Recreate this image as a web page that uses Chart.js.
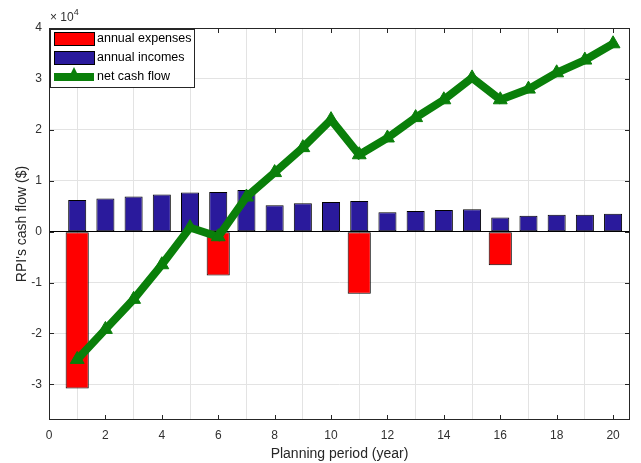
<!DOCTYPE html>
<html>
<head>
<meta charset="utf-8">
<script src="https://cdn.jsdelivr.net/npm/chart.js@4.4.0/dist/chart.umd.min.js"></script>
<style>
    body { margin: 0; background: #fff; }
</style>
</head>
<body>
<canvas id="myChart" width="641" height="463"></canvas>
<script>
// chart data (dollars)
var years = [1, 2, 3, 4, 5, 6, 7, 8, 9, 10, 11, 12, 13, 14, 15, 16, 17, 18, 19, 20];
var incomes = [6200, 6500, 6900, 7300, 7700, 7800, 8200, 5200, 5600, 5800, 6000, 3800, 4050, 4250, 4400, 2800, 3100, 3300, 3300, 3500];
var expenseYears = [1, 6, 11, 16];
var expenses = [-30800, -8600, -12200, -6600];
var netCashFlow = [-25100, -19200, -13300, -6500, 800, -1000, 6800, 11600, 16500, 22000, 15100, 18400, 22400, 25900, 30200, 25900, 28000, 31200, 33700, 36900];
var xTicks = [0, 2, 4, 6, 8, 10, 12, 14, 16, 18, 20];
var yTicks = [-30000, -20000, -10000, 0, 10000, 20000, 30000, 40000];

var FONT = "'Liberation Sans', Arial, Helvetica, sans-serif";
var AXIS_COLOR = '#262626';
var GREEN = '#0a7f0a';
var BLUE = '#2a1a9c';

window.onload = function () {
    Chart.defaults.font.family = FONT;
    Chart.defaults.color = '#303030';

    // frame, inner ticks, exponent and legend, the way matlab draws them
    var matlabAxes = {
        id: 'matlabAxes',
        afterDatasetsDraw: function (chart) {
            var ctx = chart.ctx;
            var a = chart.chartArea;
            var xs = chart.scales.x, ys = chart.scales.y;
            ctx.save();
            ctx.strokeStyle = AXIS_COLOR;
            ctx.lineWidth = 1;
            ctx.strokeRect(a.left + 0.5, a.top + 0.5, a.right - a.left - 1, a.bottom - a.top - 1);
            ctx.beginPath();
            xTicks.forEach(function (v) {
                var px = Math.round(xs.getPixelForValue(v)) + 0.5;
                ctx.moveTo(px, a.bottom); ctx.lineTo(px, a.bottom - 5);
                ctx.moveTo(px, a.top); ctx.lineTo(px, a.top + 5);
            });
            yTicks.forEach(function (v) {
                var py = Math.round(ys.getPixelForValue(v)) + 0.5;
                ctx.moveTo(a.left, py); ctx.lineTo(a.left + 5, py);
                ctx.moveTo(a.right, py); ctx.lineTo(a.right - 5, py);
            });
            ctx.stroke();

            // exponent above the y axis
            ctx.fillStyle = '#303030';
            ctx.textBaseline = 'alphabetic';
            ctx.textAlign = 'left';
            ctx.font = '12px ' + FONT;
            ctx.fillText('\u00d7 10', a.left + 1, a.top - 7);
            var w = ctx.measureText('\u00d7 10').width;
            ctx.font = '9px ' + FONT;
            ctx.fillText('4', a.left + 1 + w, a.top - 13);

            // legend box
            var lx = a.left + 1, ly = a.top + 1, lw = 144, lh = 58;
            ctx.fillStyle = '#fff';
            ctx.fillRect(lx, ly, lw, lh);
            ctx.strokeStyle = AXIS_COLOR;
            ctx.strokeRect(lx + 0.5, ly + 0.5, lw, lh);
            var ds = chart.data.datasets;
            var rows = [ly + 10, ly + 29, ly + 48];
            ctx.font = '12.5px ' + FONT;
            ctx.textBaseline = 'middle';
            for (var i = 0; i < 3; i++) {
                var d = ds[i];
                var cy = rows[i];
                if (d.type === 'line') {
                    ctx.fillStyle = d.borderColor;
                    ctx.fillRect(lx + 4, cy - 4, 40, 8);
                    ctx.beginPath();
                    ctx.moveTo(lx + 24, cy - 10);
                    ctx.lineTo(lx + 31, cy + 4);
                    ctx.lineTo(lx + 17, cy + 4);
                    ctx.closePath();
                    ctx.fill();
                } else {
                    ctx.fillStyle = d.backgroundColor;
                    ctx.fillRect(lx + 4, cy - 7, 40, 13);
                    ctx.strokeStyle = '#000';
                    ctx.strokeRect(lx + 4.5, cy - 6.5, 40, 13);
                }
                ctx.fillStyle = '#000';
                ctx.fillText(d.label, lx + 47, cy);
            }
            ctx.restore();
        }
    };

    var ctx = document.getElementById('myChart').getContext('2d');
    var myChart = new Chart(ctx, {
        type: 'bar',
        data: {
            datasets: [{
                label: 'annual expenses',
                data: expenseYears.map(function (x, i) { return { x: x, y: expenses[i] }; }),
                backgroundColor: '#ff0000',
                borderColor: '#000',
                borderWidth: 1,
                borderSkipped: false,
                grouped: false,
                barPercentage: 0.82,
                categoryPercentage: 1,
                order: 2
            },
            {
                label: 'annual incomes',
                data: years.map(function (x, i) { return { x: x, y: incomes[i] }; }),
                backgroundColor: BLUE,
                borderColor: '#000',
                borderWidth: 1,
                borderSkipped: false,
                grouped: false,
                barPercentage: 0.64,
                categoryPercentage: 1,
                order: 1
            },
            {
                type: 'line',
                label: 'net cash flow',
                data: years.map(function (x, i) { return { x: x, y: netCashFlow[i] }; }),
                borderColor: GREEN,
                backgroundColor: GREEN,
                borderWidth: 8,
                pointStyle: 'triangle',
                pointRadius: 8,
                pointBorderWidth: 1,
                tension: 0,
                order: 0
            }]
        },
        options: {
            responsive: false,
            animation: false,
            layout: { padding: { left: 0, right: 11, top: 28, bottom: 0 } },
            plugins: {
                legend: { display: false },
                tooltip: { enabled: false }
            },
            scales: {
                x: {
                    type: 'linear',
                    offset: false,
                    min: 0,
                    max: 20.6,
                    afterBuildTicks: function (scale) {
                        scale.ticks = xTicks.map(function (v) { return { value: v }; });
                    },
                    afterFit: function (scale) { scale.height = 43; },
                    ticks: { font: { size: 12 }, padding: 8, maxRotation: 0, autoSkip: false },
                    grid: { color: '#e3e3e3', drawTicks: false },
                    border: { display: false },
                    title: {
                        display: true,
                        text: 'Planning period (year)',
                        font: { size: 14 },
                        color: '#262626',
                        padding: { top: 2, bottom: 0 }
                    }
                },
                y: {
                    min: -37000,
                    max: 40000,
                    afterBuildTicks: function (scale) {
                        scale.ticks = yTicks.map(function (v) { return { value: v }; });
                    },
                    afterFit: function (scale) { scale.width = 49; },
                    ticks: {
                        font: { size: 12 },
                        padding: 7,
                        callback: function (value) { return String(value / 10000); }
                    },
                    grid: {
                        drawTicks: false,
                        color: function (c) { return c.tick && c.tick.value === 0 ? '#000' : '#e3e3e3'; }
                    },
                    border: { display: false },
                    title: {
                        display: true,
                        text: "RPI's cash flow ($)",
                        font: { size: 14 },
                        color: '#262626',
                        padding: { top: 14, bottom: 0 }
                    }
                }
            }
        },
        plugins: [matlabAxes]
    });
};
</script>
</body>
</html>
